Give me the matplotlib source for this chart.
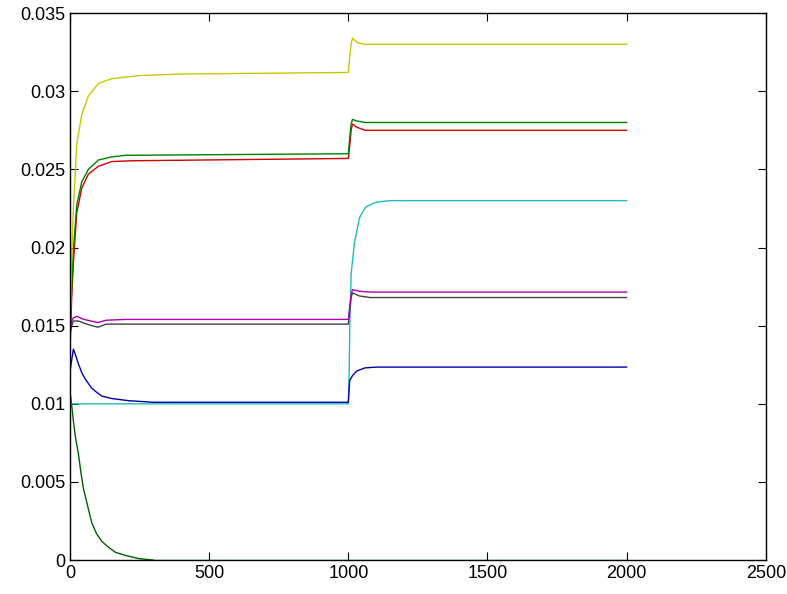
import numpy as np
import matplotlib.pyplot as plt

plt.rcParams['font.family'] = ['Liberation Sans', 'DejaVu Sans']

# values (x = time step, y = value)
t_yellow = [0, 6, 12, 24, 42, 66, 102, 150, 247, 400, 1000, 1005, 1010, 1015, 1033, 1060, 2000]
yellow = [0.0150, 0.0195, 0.0225, 0.0266, 0.0285, 0.0297, 0.0305, 0.0308, 0.0310, 0.0311,
          0.0312, 0.0322, 0.0330, 0.0334, 0.0331, 0.0330, 0.0330]

t_green = [0, 6, 12, 24, 42, 66, 102, 150, 200, 1000, 1005, 1010, 1015, 1030, 1060, 2000]
green = [0.0145, 0.0175, 0.0198, 0.0227, 0.0242, 0.0250, 0.0256, 0.0258, 0.0259,
         0.0260, 0.0270, 0.0279, 0.0282, 0.0281, 0.0280, 0.0280]

t_red = [0, 6, 12, 24, 42, 66, 102, 150, 220, 1000, 1005, 1010, 1015, 1030, 1060, 2000]
red = [0.0135, 0.0168, 0.0190, 0.0222, 0.0238, 0.0247, 0.0252, 0.0255, 0.02555,
       0.0257, 0.0265, 0.0275, 0.0279, 0.0277, 0.0275, 0.0275]

t_cyan = [0, 1000, 1003, 1005, 1010, 1022, 1040, 1063, 1100, 1150, 2000]
cyan = [0.0100, 0.0100, 0.0120, 0.0146, 0.0183, 0.0203, 0.0219, 0.0226, 0.0229, 0.0230, 0.0230]

t_magenta = [0, 6, 12, 24, 50, 100, 130, 200, 1000, 1005, 1010, 1015, 1040, 1080, 2000]
magenta = [0.0148, 0.0153, 0.0155, 0.0156, 0.0154, 0.0152, 0.01535, 0.0154,
           0.0154, 0.0162, 0.0170, 0.0173, 0.0172, 0.01715, 0.01715]

t_black = [0, 6, 12, 30, 60, 100, 130, 200, 1000, 1005, 1010, 1015, 1040, 1080, 2000]
black = [0.0145, 0.0150, 0.0153, 0.0153, 0.0151, 0.0149, 0.0151, 0.0151,
         0.0151, 0.0160, 0.0168, 0.0171, 0.0169, 0.0168, 0.0168]

t_blue = [0, 12, 20, 30, 42, 54, 66, 78, 95, 114, 150, 211, 300, 1000,
          1005, 1015, 1030, 1045, 1060, 1100, 2000]
blue = [0.0121, 0.0135, 0.0131, 0.01256, 0.0120, 0.0116, 0.0113, 0.0110, 0.01075, 0.0105,
        0.01034, 0.0102, 0.0101, 0.0101,
        0.0115, 0.0118, 0.0121, 0.0122, 0.0123, 0.01235, 0.01235]

t_decay = [0, 6, 12, 20, 30, 40, 48, 60, 78, 95, 114, 140, 163, 200, 247, 300]
decay = [0.01075, 0.0099, 0.0089, 0.0078, 0.0068, 0.0055, 0.0046, 0.0037, 0.0024,
         0.0017, 0.0012, 0.0008, 0.0005, 0.0003, 0.0001, 0.0]

t_zero = [250, 2000]
zero = [0.0, 0.0]

fig = plt.figure(figsize=(7.87, 5.94), dpi=100)
ax = fig.add_axes([0.089, 0.057, 0.884, 0.921])

lw = 1.0
ax.plot(t_zero, zero, color='#33bb33', lw=lw)
ax.plot(t_decay, decay, color='#006000', lw=lw)
ax.plot(t_cyan, cyan, color='#22bbbb', lw=lw)
ax.plot(t_blue, blue, color='#0000aa', lw=lw)
ax.plot(t_black, black, color='#404040', lw=lw)
ax.plot(t_magenta, magenta, color='#b000b0', lw=lw)
ax.plot(t_red, red, color='#cc0000', lw=lw)
ax.plot(t_green, green, color='#008000', lw=lw)
ax.plot(t_yellow, yellow, color='#c8c800', lw=lw)

ax.set_xlim(0, 2500)
ax.set_ylim(0, 0.035)
ax.set_xticks([0, 500, 1000, 1500, 2000, 2500])
ax.set_yticks([0, 0.005, 0.01, 0.015, 0.02, 0.025, 0.03, 0.035])
ax.set_yticklabels(['0', '0.005', '0.01', '0.015', '0.02', '0.025', '0.03', '0.035'])
ax.tick_params(direction='in', length=6, top=True, right=True, labelsize=13,
               labeltop=False, labelright=False)
for s in ax.spines.values():
    s.set_linewidth(1.0)

fig.savefig('out.png', dpi=100)
